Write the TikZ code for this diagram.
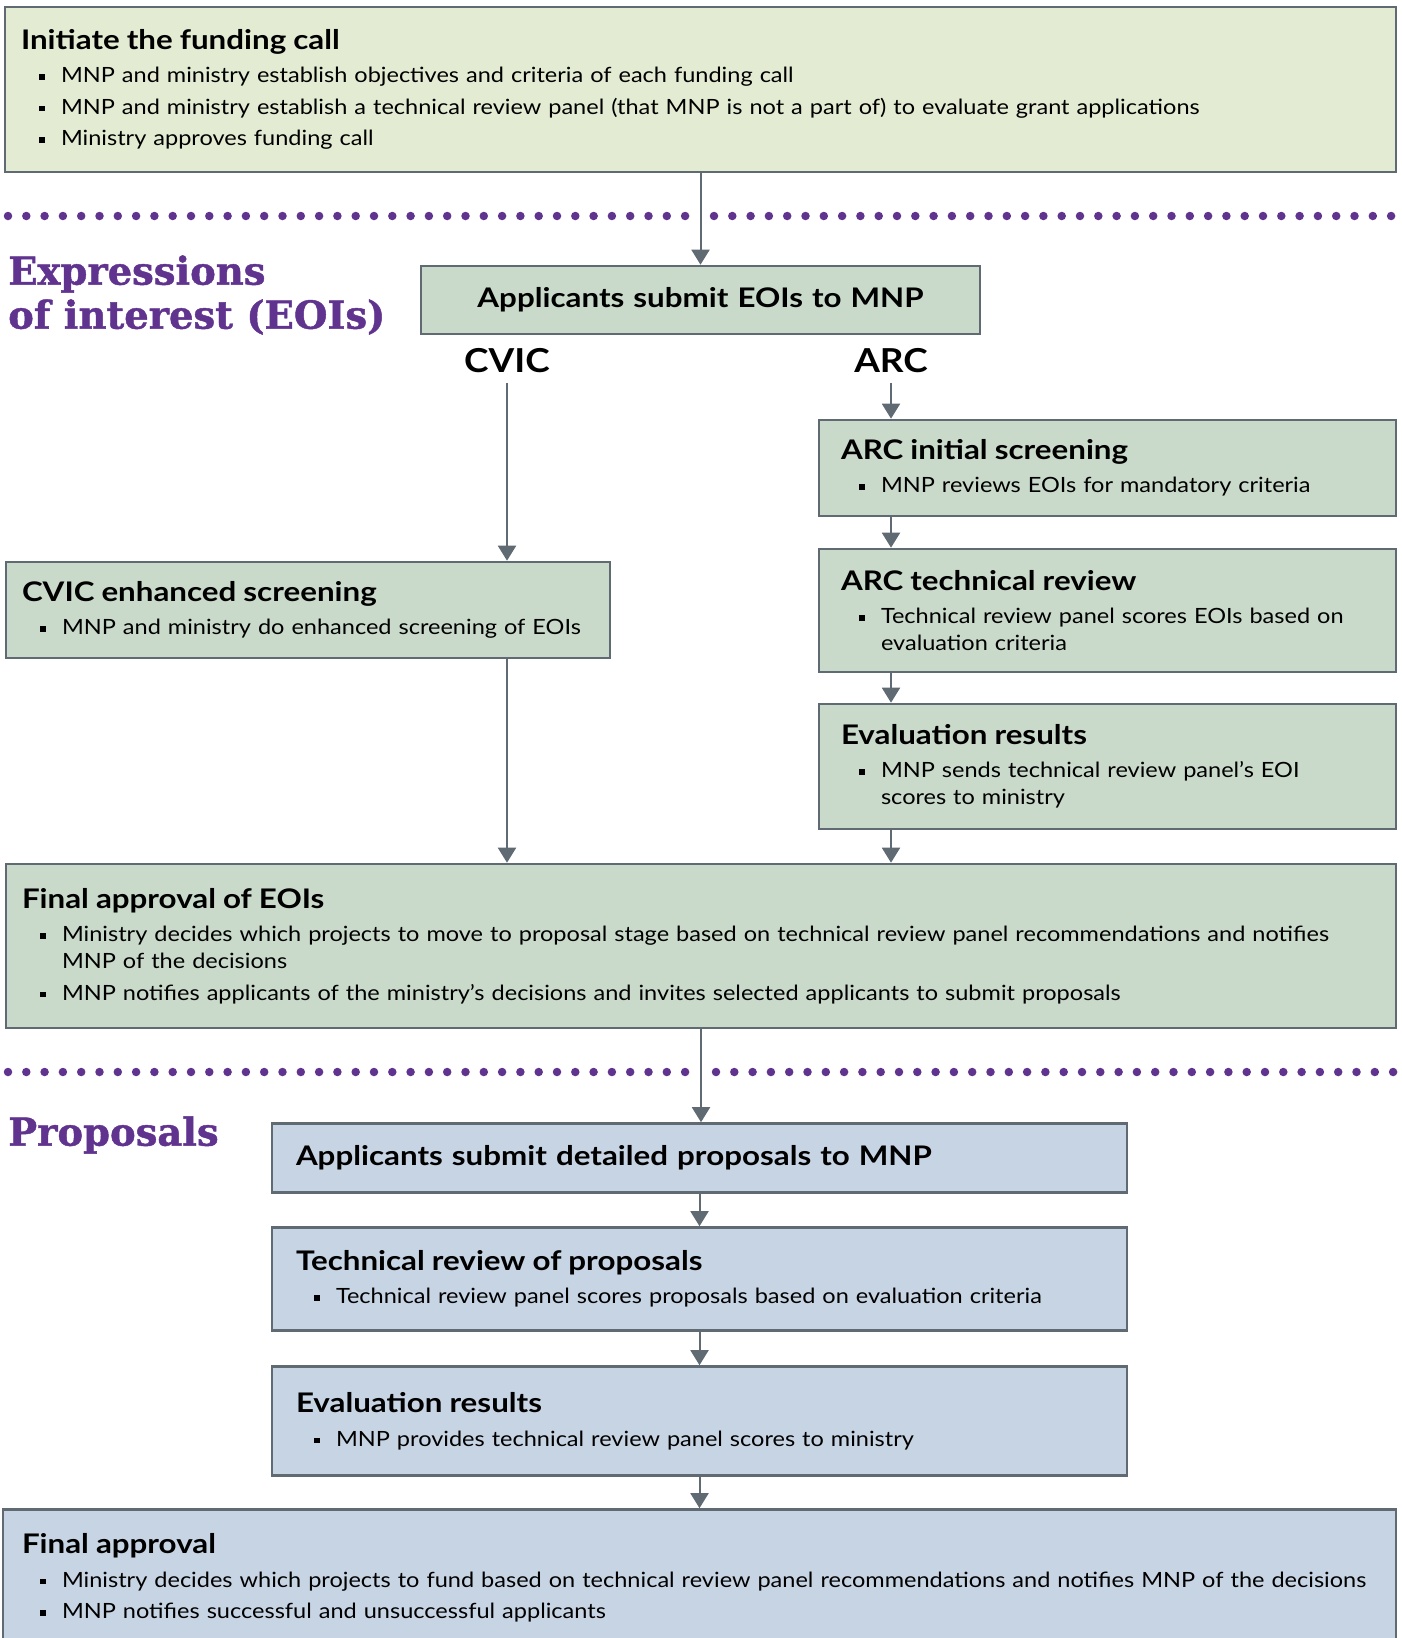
\documentclass[tikz,border=0pt]{standalone}
\usepackage{fontspec}
\setmainfont{Lato}[FakeStretch=1.12]
\newfontfamily\headfont{Lato}[FakeStretch=1.16]
\newfontfamily\slabfont{DejaVu Serif}[FakeBold=1.2]
\usepackage{tikz}
\usetikzlibrary{arrows.meta}
\usetikzlibrary{positioning}

\definecolor{framegrey}{HTML}{5F6A72}
\definecolor{callgreen}{HTML}{E3ECD3}
\definecolor{eoigreen}{HTML}{C9D9CA}
\definecolor{propblue}{HTML}{C7D4E3}
\definecolor{titlepurple}{HTML}{60338F}

\newcommand{\bodysize}{\fontsize{21}{27}\selectfont}
\newcommand{\headsize}{\fontsize{27}{30}\selectfont\headfont\bfseries}
\newcommand{\stagehead}[1]{\noindent{\headsize #1\par}\vspace{2pt}}
\newcommand{\bpoint}[1]{\par\vspace{4.5pt}\noindent\hspace*{18pt}\makebox[22pt][l]{\rule[3pt]{5.5pt}{5.5pt}}\mbox{#1}}
\newcommand{\bmore}[1]{\par\noindent\hspace*{40pt}\mbox{#1}}

\begin{document}
\begin{tikzpicture}[x=1pt,y=-1pt,>={Triangle[width=18pt,length=15pt]},
  stagebox/.style={draw=framegrey,line width=2.6pt,inner ysep=0pt,inner xsep=16pt,align=left,font=\bodysize},
  eoi node/.style={stagebox,fill=eoigreen},
  prop node/.style={stagebox,fill=propblue},
  flowline/.style={->,draw=framegrey,line width=2pt},
  dotrule/.style={draw=titlepurple,line width=8.5pt,line cap=round,dash pattern=on 0pt off 18.3pt},
  branchlabel/.style={font=\fontsize{33}{33}\selectfont\bfseries,inner sep=10pt},
  part title/.style={text=titlepurple,anchor=west,align=left,inner sep=0pt,font=\fontsize{38.5}{44}\selectfont\slabfont\bfseries}]

  \useasboundingbox (0,0) rectangle (1401,1638);

  \node[stagebox,fill=callgreen,text width=1359pt,minimum height=165pt] (call) at (700.5,89.5)
    {\stagehead{Initiate the funding call}
     \bpoint{MNP and ministry establish objectives and criteria of each funding call}
     \bpoint{MNP and ministry establish a technical review panel (that MNP is not a part of) to evaluate grant applications}
     \bpoint{Ministry approves funding call}};

  \draw[dotrule] (8,216) -- (686,216);
  \draw[dotrule] (714,216) -- (1392,216);

  \node[part title] (eoititle) at (8,295) {Expressions\\of interest (EOIs)};

  \node[eoi node,text width=527pt,minimum height=68pt,align=center,font=\headsize] (eoisub) at (700.5,300) {Applicants submit EOIs to MNP};
  \node[branchlabel] (cvic) at (507,361) {CVIC};
  \node[branchlabel] (arc) at (891,361) {ARC};

  \node[eoi node,inner xsep=22pt,text width=533pt,minimum height=96pt] (arcinit) at (1107.5,468)
    {\stagehead{ARC initial screening}
     \bpoint{MNP reviews EOIs for mandatory criteria}};
  \node[eoi node,inner xsep=22pt,text width=533pt,minimum height=123pt] (arcrev) [below=30.4pt of arcinit]
    {\stagehead{ARC technical review}
     \bpoint{Technical review panel scores EOIs based on}
     \bmore{evaluation criteria}};
  \node[eoi node,inner xsep=22pt,text width=533pt,minimum height=125pt] (arceval) [below=29.4pt of arcrev]
    {\stagehead{Evaluation results}
     \bpoint{MNP sends technical review panel’s EOI}
     \bmore{scores to ministry}};

  \node[eoi node,text width=572pt,minimum height=96pt] (cvicbox) at (308,610)
    {\stagehead{CVIC enhanced screening}
     \bpoint{MNP and ministry do enhanced screening of EOIs}};

  \node[eoi node,text width=1358pt,minimum height=164pt] (eoifinal) at (701,946)
    {\stagehead{Final approval of EOIs}
     \bpoint{Ministry decides which projects to move to proposal stage based on technical review panel recommendations and notifies}
     \bmore{MNP of the decisions}
     \bpoint{MNP notifies applicants of the ministry’s decisions and invites selected applicants to submit proposals}};

  \draw[dotrule] (8,1072) -- (686,1072);
  \draw[dotrule] (716,1072) -- (1394,1072);

  \node[part title] (proptitle) at (8,1135) {Proposals};

  \node[prop node,inner xsep=24pt,text width=807pt,minimum height=69pt,font=\headsize] (propsub) at (699.5,1158) {Applicants submit detailed proposals to MNP};
  \node[prop node,inner xsep=24pt,text width=807pt,minimum height=103pt] (proprev) [below=32.4pt of propsub]
    {\stagehead{Technical review of proposals}
     \bpoint{Technical review panel scores proposals based on evaluation criteria}};
  \node[prop node,inner xsep=24pt,text width=807pt,minimum height=109pt] (propeval) [below=33.4pt of proprev]
    {\stagehead{Evaluation results}
     \bpoint{MNP provides technical review panel scores to ministry}};
  \node[prop node,inner xsep=19pt,text width=1355pt,minimum height=137pt] (final) [below=31.4pt of propeval]
    {\stagehead{Final approval}
     \bpoint{Ministry decides which projects to fund based on technical review panel recommendations and notifies MNP of the decisions}
     \bpoint{MNP notifies successful and unsuccessful applicants}};

  \draw[flowline] (call.south) -- (eoisub.north);
  \draw[flowline] (cvic.south) -- (cvic.south |- cvicbox.north);
  \draw[flowline] (arc.south) -- (arc.south |- arcinit.north);
  \draw[flowline] (arcinit.south -| arc) -- (arcrev.north -| arc);
  \draw[flowline] (arcrev.south -| arc) -- (arceval.north -| arc);
  \draw[flowline] (arceval.south -| arc) -- (eoifinal.north -| arc);
  \draw[flowline] (cvicbox.south -| cvic) -- (eoifinal.north -| cvic);
  \draw[flowline] (eoifinal.south) -- (eoifinal.south |- propsub.north);
  \draw[flowline] (propsub) -- (proprev);
  \draw[flowline] (proprev) -- (propeval);
  \draw[flowline] (propeval) -- (final);
\end{tikzpicture}
\end{document}
